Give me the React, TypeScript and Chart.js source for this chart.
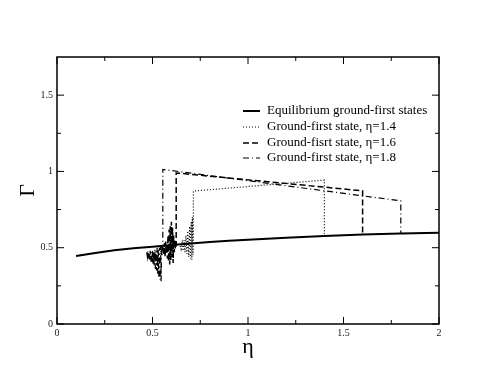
import React, { useEffect, useRef } from "react";
import { Chart, registerables } from "chart.js";

Chart.register(...registerables);

const eqX = [0.1, 0.2, 0.3, 0.4, 0.5, 0.6, 0.7, 0.8, 0.9, 1.0, 1.2, 1.4, 1.6, 1.8, 2.0];
const eqY = [0.445, 0.465, 0.483, 0.496, 0.507, 0.518, 0.528, 0.537, 0.545, 0.552, 0.565, 0.576, 0.587, 0.593, 0.598];

const g14X = [0.645, 0.65, 0.655, 0.66, 0.665, 0.67, 0.675, 0.68, 0.685, 0.69, 0.695, 0.7, 0.703, 0.706, 0.709, 0.712, 0.714, 0.714, 1.4, 1.4];
const g14Y = [0.51, 0.49, 0.53, 0.48, 0.55, 0.47, 0.58, 0.46, 0.61, 0.44, 0.64, 0.43, 0.67, 0.42, 0.70, 0.45, 0.60, 0.871, 0.943, 0.59];

const g16X = [0.557, 0.56, 0.563, 0.566, 0.569, 0.572, 0.575, 0.578, 0.581, 0.584, 0.587, 0.59, 0.593, 0.596, 0.599, 0.602, 0.605, 0.608, 0.611, 0.614, 0.617, 0.62, 0.624, 0.624, 1.6, 1.6];
const g16Y = [0.50, 0.45, 0.53, 0.44, 0.54, 0.46, 0.52, 0.43, 0.58, 0.41, 0.62, 0.39, 0.64, 0.42, 0.67, 0.44, 0.63, 0.40, 0.58, 0.47, 0.55, 0.49, 0.52, 0.99, 0.873, 0.587];

const g18X = [0.47, 0.473, 0.476, 0.479, 0.482, 0.485, 0.488, 0.491, 0.494, 0.497, 0.5, 0.503, 0.506, 0.509, 0.512, 0.515, 0.518, 0.521, 0.524, 0.527, 0.53, 0.533, 0.536, 0.539, 0.542, 0.545, 0.548, 0.551, 0.554, 0.554, 1.8, 1.8];
const g18Y = [0.47, 0.44, 0.48, 0.43, 0.47, 0.42, 0.48, 0.41, 0.47, 0.40, 0.48, 0.39, 0.47, 0.38, 0.49, 0.36, 0.48, 0.35, 0.50, 0.33, 0.49, 0.31, 0.50, 0.29, 0.51, 0.28, 0.52, 0.45, 0.50, 1.013, 0.807, 0.593];

const xMajor = [0, 0.5, 1, 1.5, 2];
const xMinor = [0.25, 0.75, 1.25, 1.75];
const yMajor = [0, 0.5, 1, 1.5];
const yMinor = [0.25, 0.75, 1.25];

const legendLabels = [
  "Equilibrium ground-first states",
  "Ground-first state, \u03b7=1.4",
  "Ground-fisrt state, \u03b7=1.6",
  "Ground-first state, \u03b7=1.8",
];

const SERIF = "'Liberation Serif', 'DejaVu Serif', serif";

function pts(xs: number[], ys: number[]) {
  return xs.map((x, i) => ({ x, y: ys[i] }));
}

const styles = [
  { dash: [] as number[], width: 2 },
  { dash: [1, 2], width: 1.2 },
  { dash: [6, 3], width: 1.5 },
  { dash: [6, 3, 1, 3], width: 1.2 },
];

const framePlugin = {
  id: "frame",
  afterDraw(chart: any) {
    const { ctx, chartArea: a, scales } = chart;
    const xs = scales.x;
    const ys = scales.y;
    ctx.save();
    ctx.strokeStyle = "#000";
    ctx.lineWidth = 1.5;
    ctx.setLineDash([]);
    ctx.strokeRect(a.left, a.top, a.right - a.left, a.bottom - a.top);
    ctx.lineWidth = 1;
    const tick = (vals: number[], len: number) => {
      vals.forEach((v) => {
        const px = xs.getPixelForValue(v);
        ctx.beginPath();
        ctx.moveTo(px, a.bottom);
        ctx.lineTo(px, a.bottom - len);
        ctx.moveTo(px, a.top);
        ctx.lineTo(px, a.top + len);
        ctx.stroke();
      });
    };
    const ytick = (vals: number[], len: number) => {
      vals.forEach((v) => {
        const py = ys.getPixelForValue(v);
        ctx.beginPath();
        ctx.moveTo(a.left, py);
        ctx.lineTo(a.left + len, py);
        ctx.moveTo(a.right, py);
        ctx.lineTo(a.right - len, py);
        ctx.stroke();
      });
    };
    tick(xMajor, 7);
    tick(xMinor, 4);
    ytick(yMajor, 7);
    ytick(yMinor, 4);

    // legend
    const lx0 = 243;
    const lx1 = 260;
    const tx = 267;
    const rows = [111, 127, 143, 158];
    ctx.font = "13px " + SERIF;
    ctx.fillStyle = "#000";
    ctx.textBaseline = "middle";
    ctx.textAlign = "left";
    legendLabels.forEach((lab, i) => {
      ctx.beginPath();
      ctx.setLineDash(styles[i].dash);
      ctx.lineWidth = styles[i].width;
      ctx.moveTo(lx0, rows[i]);
      ctx.lineTo(lx1, rows[i]);
      ctx.stroke();
      ctx.setLineDash([]);
      ctx.fillText(lab, tx, rows[i]);
    });
    ctx.restore();
  },
};

export default function App() {
  const ref = useRef<HTMLCanvasElement | null>(null);
  useEffect(() => {
    if (!ref.current) return;
    const series = [pts(eqX, eqY), pts(g14X, g14Y), pts(g16X, g16Y), pts(g18X, g18Y)];
    const chart = new Chart(ref.current, {
      type: "line",
      data: {
        datasets: series.map((d, i) => ({
          label: legendLabels[i],
          data: d,
          borderColor: "#000",
          borderWidth: styles[i].width,
          borderDash: styles[i].dash,
          pointRadius: 0,
          tension: 0,
          fill: false,
        })),
      },
      options: {
        animation: false,
        responsive: false,
        layout: { padding: { top: 57, right: 55, left: 0, bottom: 0 } },
        plugins: { legend: { display: false }, tooltip: { enabled: false } },
        scales: {
          x: {
            type: "linear",
            min: 0,
            max: 2,
            afterFit: (s: any) => {
              s.height = 58;
            },
            afterBuildTicks: (s: any) => {
              s.ticks = xMajor.map((v) => ({ value: v }));
            },
            grid: { display: false, drawTicks: false },
            border: { display: false },
            ticks: {
              padding: 3,
              color: "#222",
              font: { family: SERIF, size: 10 },
              maxRotation: 0,
              callback: (v: any) => String(v),
            },
            title: {
              display: true,
              text: "\u03b7",
              color: "#000",
              font: { family: SERIF, size: 22 },
              padding: { top: 0, bottom: 22 },
            },
          },
          y: {
            type: "linear",
            min: 0,
            max: 1.75,
            afterFit: (s: any) => {
              s.width = 57;
            },
            afterBuildTicks: (s: any) => {
              s.ticks = yMajor.map((v) => ({ value: v }));
            },
            grid: { display: false, drawTicks: false },
            border: { display: false },
            ticks: {
              padding: 4,
              color: "#222",
              font: { family: SERIF, size: 10 },
              callback: (v: any) => String(v),
            },
            title: {
              display: true,
              text: "\u0393",
              color: "#000",
              font: { family: SERIF, size: 22 },
              padding: { top: 15, bottom: 0 },
            },
          },
        },
      },
      plugins: [framePlugin],
    });
    return () => chart.destroy();
  }, []);
  return (
    <div style={{ position: "fixed", left: 0, top: 0, width: 494, height: 382, background: "#fff" }}>
      <canvas ref={ref} width={494} height={382} style={{ width: 494, height: 382 }} />
    </div>
  );
}
